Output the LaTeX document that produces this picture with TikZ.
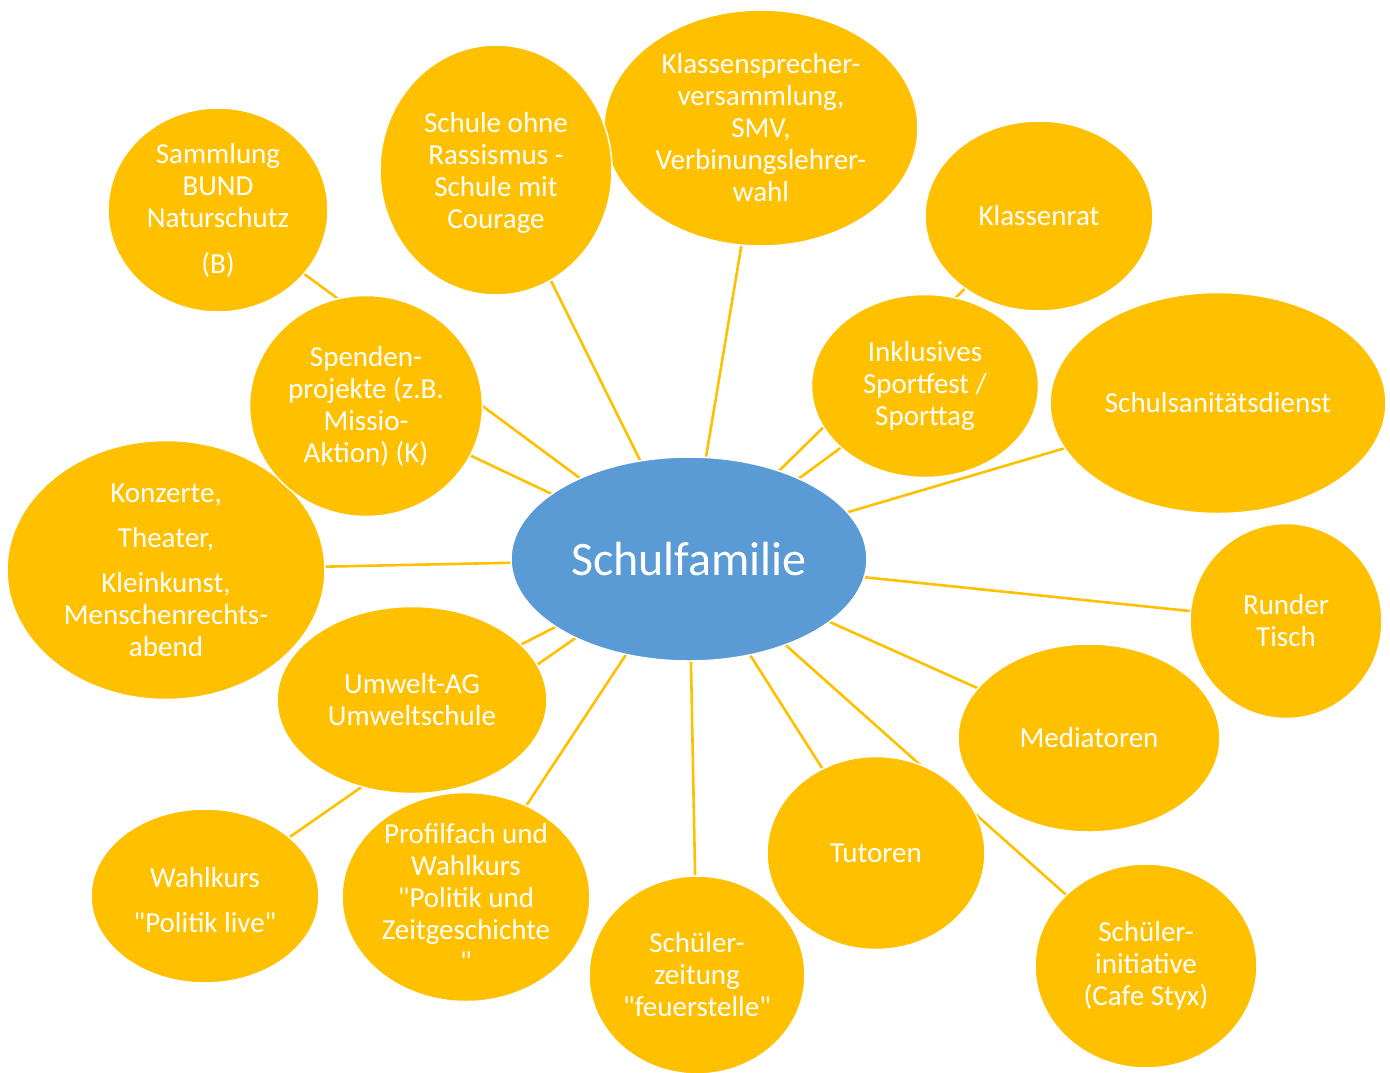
\documentclass[tikz,border=0pt]{standalone}
\usepackage{fontspec}
\setmainfont{Carlito}[Ligatures=TeXOff]
\usetikzlibrary{shapes.geometric}
\pgfdeclarelayer{bg}
\pgfsetlayers{bg,main}
\definecolor{yel}{HTML}{FFC000}
\definecolor{blu}{HTML}{5B9BD5}
\tikzset{
  bub/.style={ellipse, fill=yel, draw=white, line width=1.5pt, inner sep=0pt, outer sep=0pt},
  ctr/.style={ellipse, fill=blu, draw=white, line width=1.5pt, inner sep=0pt, outer sep=0pt},
  txt/.style={text=white, align=center, inner sep=0pt, font=\fontsize{29}{32}\selectfont},
  bigtxt/.style={text=white, align=center, inner sep=0pt, font=\fontsize{48}{56}\selectfont},
  lnk/.style={draw=yel, line width=2.6pt},
}
\begin{document}
\begin{tikzpicture}[x=1pt,y=-1pt]
\useasboundingbox (0,0) rectangle (1390,1072);
% bubbles
\node[bub, minimum width=318, minimum height=259] (kon) at (166,570) {};
\node[bub, minimum width=220, minimum height=204] (sam) at (218,210) {};
\node[bub, minimum width=233, minimum height=221] (spe) at (366,406) {};
\node[bub, minimum width=314, minimum height=236] (ksv) at (761,128) {};
\node[bub, minimum width=232, minimum height=250] (sor) at (496,170) {};
\node[bub, minimum width=228, minimum height=190] (kr) at (1039,216) {};
\node[bub, minimum width=227, minimum height=183] (ink) at (925,386) {};
\node[bub, minimum width=336, minimum height=221] (san) at (1218,403) {};
\node[bub, minimum width=192, minimum height=195] (rt) at (1286,621) {};
\node[bub, minimum width=262, minimum height=188] (med) at (1089,738) {};
\node[bub, minimum width=222, minimum height=204] (si) at (1146,966) {};
\node[bub, minimum width=218, minimum height=193] (tut) at (876,853) {};
\node[bub, minimum width=216, minimum height=198] (sz) at (697,975) {};
\node[bub, minimum width=248, minimum height=209] (pro) at (466,897) {};
\node[bub, minimum width=228, minimum height=174] (wk) at (205,896) {};
\node[bub, minimum width=270, minimum height=187] (umw) at (412,700) {};
\node[ctr, minimum width=356, minimum height=204] (c) at (689,559) {};
% texts
\node[bigtxt] (cT) at (c) {Schulfamilie};
\node[txt] (konT) at (kon) {Konzerte,\\[13pt]Theater,\\[13pt]Kleinkunst,\\Menschenrechts-\\abend};
\node[txt] (samT) at (sam) {Sammlung\\BUND\\Naturschutz\\[14pt](B)};
\node[txt] (speT) at (spe) {Spenden-\\projekte (z.B.\\Missio-\\Aktion) (K)};
\node[txt] (ksvT) at (ksv) {Klassensprecher-\\versammlung,\\SMV,\\Verbinungslehrer-\\wahl};
\node[txt] (sorT) at ([yshift=-3pt]sor.center) {Schule ohne\\Rassismus -\\Schule mit\\Courage};
\node[txt] (krT) at (kr) {Klassenrat};
\node[txt] (inkT) at (ink) {Inklusives\\Sportfest /\\Sporttag};
\node[txt] (sanT) at (san) {Schulsanitätsdienst};
\node[txt] (rtT) at (rt) {Runder\\Tisch};
\node[txt] (medT) at (med) {Mediatoren};
\node[txt] (siT) at (si) {Schüler-\\initiative\\(Cafe Styx)};
\node[txt] (tutT) at (tut) {Tutoren};
\node[txt] (szT) at (sz) {Schüler-\\zeitung\\"feuerstelle"};
\node[txt] (proT) at (pro) {Profilfach und\\Wahlkurs\\"Politik und\\Zeitgeschichte\\"};
\node[txt] (wkT) at ([yshift=-4pt]wk.center) {Wahlkurs\\[13pt]"Politik live"};
\node[txt] (umwT) at (umw) {Umwelt-AG\\Umweltschule};
% connectors
\begin{pgfonlayer}{bg}
\foreach \t in {kon,sam,spe,ksv,sor,kr,ink,san,rt,med,si,tut,sz,pro,wk,umw}
  \draw[lnk] (c) -- (\t);
\end{pgfonlayer}
\end{tikzpicture}
\end{document}
